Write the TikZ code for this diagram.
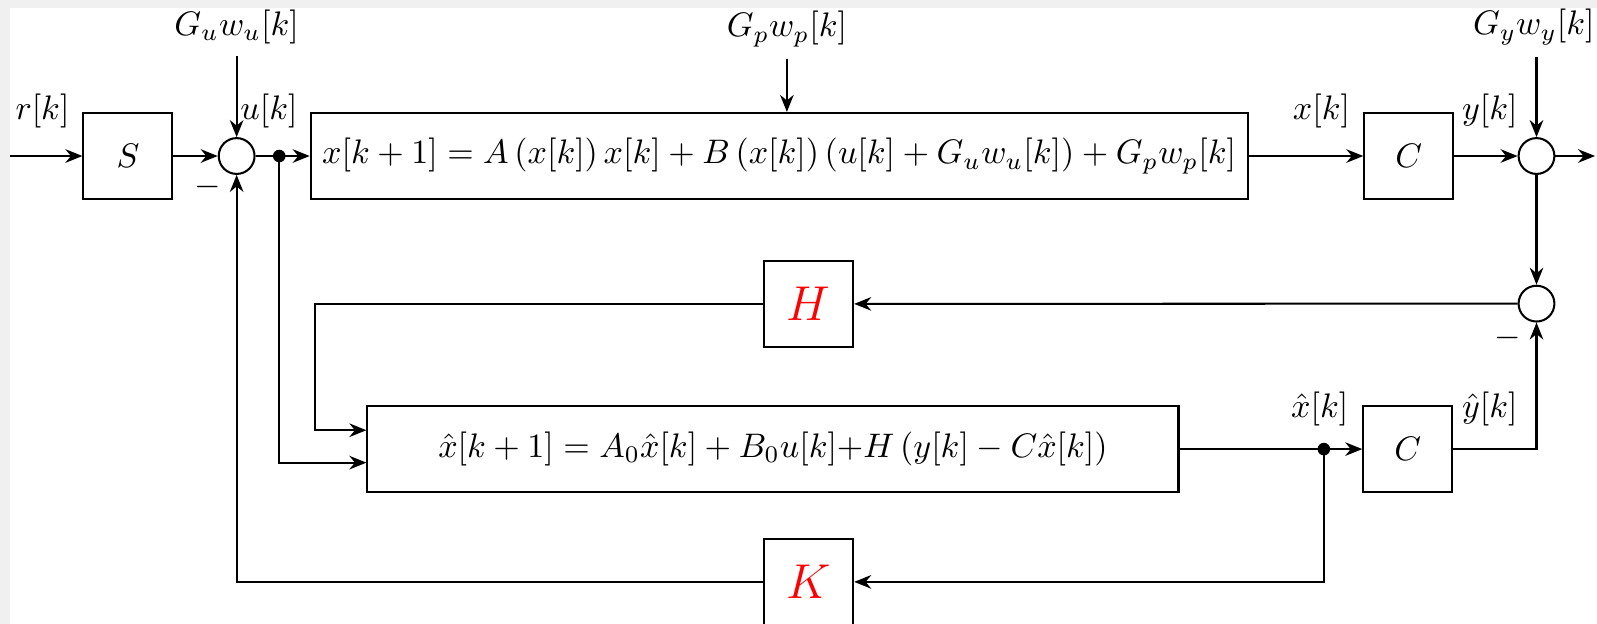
\documentclass[tikz,border=0pt]{standalone}
\usepackage{amsmath}
\usepackage{amssymb}
\usepackage{tikz}
\usetikzlibrary{arrows.meta}
\definecolor{pagegray}{HTML}{F0F0F0}

\begin{document}
\begin{tikzpicture}[>={Stealth[length=5pt,width=4pt]}, semithick,
    block/.style={draw, rectangle, minimum width=0.92cm, minimum height=0.89cm, inner sep=0pt},
    sumnode/.style={draw, circle, minimum size=0.37cm, inner sep=0pt},
    sig/.style={anchor=base, inner sep=0pt}]
                % Page
                \useasboundingbox (0,0) rectangle (16.5,-6.446);
                \fill[pagegray] (0,0) rectangle (16.5,-6.446);
                \fill[white] (0.103,-0.083) rectangle (16.5,-6.446);
                % Nodes
                \coordinate (in) at (0.103,-1.612);
                \node[block] (S) at (1.322,-1.612) {$S$};
                \node[sumnode] (sumu) at (2.445,-1.612) {};
                \coordinate (udot) at (2.885,-1.612);
                \node[block, minimum width=9.68cm] (plant) at (8.05,-1.612)
                    {$x[k+1] = A\left(x[k]\right)x[k] + B\left(x[k]\right)\left(u[k]+G_uw_u[k]\right)+G_pw_p[k]$};
                \node[block] (Cy) at (14.556,-1.612) {$C$};
                \node[sumnode] (sumy) at (15.875,-1.612) {};
                \coordinate (out) at (16.48,-1.612);
                \node[sumnode] (sume) at (15.875,-3.137) {};
                \node[block, text=red] (H) at (8.355,-3.140) {\Large $H$};
                \coordinate (hturn) at (3.251,-4.445);
                \coordinate (uturn) at (2.885,-4.780);
                \node[block, minimum width=8.38cm] (obs) at (7.986,-4.64)
                    {$\hat{x}[k+1] = A_0\hat{x}[k] + B_0u[k]{+}H\left(y[k]-C\hat{x}[k]\right)$};
                \coordinate (xdot) at (13.678,-4.64);
                \node[block] (Cx) at (14.545,-4.64) {$C$};
                \node[block, text=red] (K) at (8.355,-6.012) {\Large $K$};
                % Labels
                \node (Gu) at (2.445,-0.28) {$G_uw_u[k]$};
                \node (Gp) at (8.13,-0.30) {$G_pw_p[k]$};
                \node (Gy) at (15.847,-0.28) {$G_yw_y[k]$};
                \node[sig] (rlab) at (0.439,-1.234) {$r[k]$};
                \node[sig] (ulab) at (2.779,-1.234) {$u[k]$};
                \node[sig] (xlab) at (13.654,-1.234) {$x[k]$};
                \node[sig] (ylab) at (15.393,-1.234) {$y[k]$};
                \node[sig] (xhlab) at (13.636,-4.318) {$\hat{x}[k]$};
                \node[sig] (yhlab) at (15.393,-4.318) {$\hat{y}[k]$};
                \node (mu) at (2.149,-1.932) {$-$};
                \node (me) at (15.579,-3.492) {$-$};
                % Edges
                \draw[->] (in) -- (S);
                \draw[->] (S) -- (sumu);
                \draw[->] (sumu) -- (plant);
                \draw[->] (plant) -- (Cy);
                \draw[->] (Cy) -- (sumy);
                \draw[->] (sumy) -- (out);
                \draw[->] (sumy) -- (sume);
                \draw[->] (sume) -- (H);
                \draw[->] (H) -| (hturn) -- (hturn -| obs.west);
                \draw[->] (udot) |- (uturn -| obs.west);
                \draw[->] (obs) -- (Cx);
                \draw[->] (Cx) -| (sume);
                \draw[->] (xdot) |- (K);
                \draw[->] (K) -| (sumu);
                \draw[->] (Gu) -- (sumu);
                \draw[->] (Gp) -- (Gp |- plant.north);
                \draw[->] (Gy.south -| sumy) -- (sumy);
                \fill (udot) circle (0.065);
                \fill (xdot) circle (0.065);
\end{tikzpicture}
\end{document}
